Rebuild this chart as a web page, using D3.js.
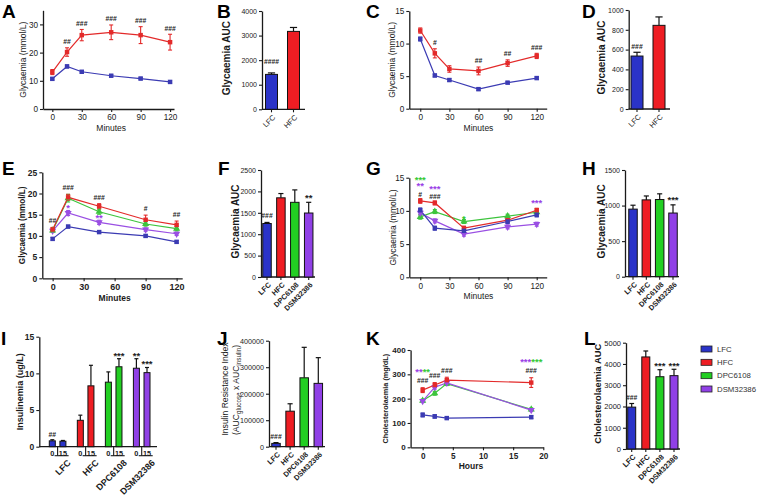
<!DOCTYPE html>
<html><head><meta charset="utf-8">
<script src="https://cdn.jsdelivr.net/npm/d3@7"></script>
<style>body{margin:0;background:#fff}svg{display:block}</style>
</head><body><svg id="c" width="758" height="496"></svg>
<script>
// ---------------- DATA ----------------
const groups = ["LFC","HFC","DPC6108","DSM32386"];
const groups2 = ["LFC","HFC"];
const keys = ["LFC","HFC","DPC","DSM"];

const minutesA = [0,15,30,60,90,120];
const glyA_LFC = [10.7,15.1,13.2,11.8,10.8,9.6];
const glyA_LFC_err = [0.4,0.5,0.4,0.3,0.4,0.4];
const glyA_HFC = [13.1,20.2,26.2,27.2,26.2,23.7];
const glyA_HFC_err = [0.9,1.5,2.0,2.6,3.0,2.8];
const sigA = ["","##","###","###","###","###"];

const aucB = [1420,3170];
const aucB_err = [60,160];
const sigB = ["####",""];

const minutesC = [0,15,30,60,90,120];
const glyC_LFC = [10.7,5.1,4.4,3.0,4.0,4.7];
const glyC_LFC_err = [0.3,0.2,0.2,0.2,0.15,0.2];
const glyC_HFC = [12.0,8.5,6.1,5.8,7.0,8.1];
const glyC_HFC_err = [0.4,0.7,0.5,0.6,0.5,0.4];
const sigC = ["","#","","##","##","###"];

const aucD = [535,845];
const aucD_err = [38,85];
const sigD = ["###",""];

const minutesE = [0,15,45,90,120];
const glyE_LFC = [9.3,12.2,10.9,10.0,8.6];
const glyE_LFC_err = [0.3,0.3,0.3,0.3,0.3];
const glyE_HFC = [11.5,19.1,17.0,13.8,12.6];
const glyE_HFC_err = [0.5,0.7,0.6,1.1,0.9];
const glyE_DPC = [11.3,18.9,15.7,12.8,11.7];
const glyE_DPC_err = [0.4,0.9,0.6,0.5,0.5];
const glyE_DSM = [11.2,15.4,13.2,11.5,10.5];
const glyE_DSM_err = [0.4,0.6,0.5,0.4,0.4];
const sigE = ["##","###","###","#","##"];
const starE_DSM = ["","*","**","",""];

const aucF = [1250,1850,1745,1495];
const aucF_err = [25,100,290,250];
const sigF = ["###","","","**"];

const minutesG = [0,15,45,90,120];
const glyG_LFC = [10.1,7.4,7.0,8.4,9.4];
const glyG_HFC = [11.5,11.2,7.4,8.6,10.1];
const glyG_DPC = [9.1,9.9,8.4,9.2,9.8];
const glyG_DSM = [9.7,8.5,6.5,7.6,8.0];
const glyG_err = [0.35,0.3,0.3,0.3,0.3];
const sigG = ["#","###","","",""];
const starG_DSM = ["**","***","","","***"];
const starG_DPC = ["***","","*","",""];

const aucH = [950,1080,1085,895];
const aucH_err = [55,55,80,115];
const sigH = ["","","","***"];

const insulinTimes = ["0","15"];
const insulin0 = [0.8,3.6,8.8,10.7];
const insulin0_err = [0.15,0.7,1.4,1.3];
const insulin15 = [0.75,8.3,10.9,10.1];
const insulin15_err = [0.1,2.8,1.1,0.7];
const sigI0 = ["##","","","**"];
const sigI15 = ["","","***","***"];

const irJ = [12500,134000,260000,239000];
const irJ_err = [3000,28000,115000,97000];
const sigJ = ["###","","",""];

const hoursK = [0,2,4,18];
const cholK_LFC = [133,127,120,124];
const cholK_LFC_err = [8,7,5,6];
const cholK_HFC = [235,256,276,266];
const cholK_HFC_err = [10,10,12,20];
const cholK_DPC = [192,222,262,156];
const cholK_DSM = [190,247,265,153];
const cholK_err = [6,8,8,6];
const sigK = ["###","###","###","###"];
const starK_DSM = ["**","","","***"];
const starK_DPC = ["**","","","***"];

const aucL = [1970,4330,3400,3450];
const aucL_err = [170,280,330,300];
const sigL = ["###","","***","***"];

// ---------------- STYLE ----------------
const FONT = "'Liberation Sans', Arial, Helvetica, sans-serif";
const BAR = {LFC:"#2a33c8", HFC:"#ee1d23", DPC:"#22cf22", DSM:"#9040e6"};
const LINE = {LFC:"#3b3bb3", HFC:"#e32a2a", DPC:"#3dc43d", DSM:"#9a4fe3"};
const STAR = {DPC:"#35c935", DSM:"#9a3fe6", K:"#222"};
const AX = "#1a1a1a";

const svg = d3.select("#c").attr("font-family", FONT);

function letter(t, x, y){
  svg.append("text").attr("x",x).attr("y",y).attr("font-size",19).attr("font-weight","bold").attr("fill","#000").text(t);
}
function yAxis(g, y, x0, ticks, fs, bold, fmt){
  const a = d3.axisLeft(y).tickValues(ticks).tickSizeOuter(0).tickSizeInner(3).tickPadding(2)
    .tickFormat(fmt || d3.format("d"));
  const s = g.append("g").attr("transform",`translate(${x0},0)`).call(a)
    .attr("font-family",FONT).attr("font-size",fs).attr("font-weight",bold?"bold":"normal");
  s.select(".domain").attr("stroke",AX).attr("stroke-width",1.3);
  s.selectAll(".tick line").attr("stroke",AX).attr("stroke-width",1.1);
  s.selectAll(".tick text").attr("fill","#222");
}
function yLabel(g, lines, x, yc, fs, bold){
  const t = g.append("text").attr("transform",`translate(${x},${yc}) rotate(-90)`)
    .attr("text-anchor","middle").attr("dominant-baseline","central")
    .attr("font-size",fs).attr("font-weight",bold?"bold":"normal").attr("fill","#1a1a1a");
  if (typeof lines === "string") t.text(lines); else lines(t);
}
// visual centre -> baseline for symbol glyphs
function symText(g, x, yc, txt, color, fs){
  const star = txt.indexOf("*")>=0;
  const base = yc + (star ? 0.56 : 0.36)*fs;
  return g.append("text").attr("x",x).attr("y",base).attr("text-anchor","middle")
    .attr("font-size",fs).attr("font-weight","bold").attr("fill",color).text(txt);
}
const HFS = 6.8, SFS = 9.5;

function lineChart(p){
  const g = svg.append("g");
  const x = d3.scaleLinear().domain(p.xd).range(p.xr);
  const y = d3.scaleLinear().domain(p.yd).range(p.yr);
  yAxis(g, y, p.xr[0], p.yTicks, p.tfs, p.tbold);
  const xa = d3.axisBottom(x).tickValues(p.xTicks).tickSizeOuter(0).tickSizeInner(3).tickPadding(2.5);
  const s = g.append("g").attr("transform",`translate(0,${y(0)})`).call(xa)
    .attr("font-family",FONT).attr("font-size",p.xfs).attr("font-weight",p.tbold?"bold":"normal");
  s.select(".domain").attr("stroke",AX).attr("stroke-width",1.3);
  s.selectAll(".tick line").attr("stroke",AX).attr("stroke-width",1.1);
  s.selectAll(".tick text").attr("fill","#222");
  g.append("text").attr("x",x(p.xs[0]/2+p.xs[p.xs.length-1]/2 + (p.xmidShift||0))).attr("y",p.xlabY)
    .attr("text-anchor","middle").attr("font-size",p.lfs).attr("font-weight",p.lbold?"bold":"normal")
    .attr("fill","#1a1a1a").text(p.xlab);
  yLabel(g, p.ylab, p.ylabX, (p.yr[0]+p.yr[1])/2, p.yfs, p.lbold);
  const ser = p.series;
  ser.forEach(sr=>{
    const col = LINE[sr.key];
    sr.v.forEach((v,i)=>{
      const e = sr.e[i], xx = x(p.xs[i]);
      g.append("line").attr("x1",xx).attr("x2",xx).attr("y1",y(v-e)).attr("y2",y(v+e)).attr("stroke",col).attr("stroke-width",1.1);
      [v-e,v+e].forEach(w=>g.append("line").attr("x1",xx-2).attr("x2",xx+2).attr("y1",y(w)).attr("y2",y(w)).attr("stroke",col).attr("stroke-width",1.1));
    });
    g.append("path").datum(sr.v).attr("fill","none").attr("stroke",col).attr("stroke-width",1.2)
      .attr("d", d3.line().x((d,i)=>x(p.xs[i])).y(d=>y(d)));
  });
  ser.forEach(sr=>{
    const col = LINE[sr.key];
    const sym = sr.key==="DPC"||sr.key==="DSM" ? d3.symbolTriangle : d3.symbolSquare;
    const rot = sr.key==="DSM" ? 180 : 0;
    sr.v.forEach((v,i)=>{
      g.append("path").attr("d", d3.symbol().type(sym).size(sym===d3.symbolSquare?20:22)())
        .attr("transform",`translate(${x(p.xs[i])},${y(v)}) rotate(${rot})`).attr("fill",col);
    });
  });
  // annotations
  const tops = p.xs.map((t,i)=>d3.min(ser, sr=>y(sr.v[i]+sr.e[i])));
  const joined = {};
  (p.layers||[]).forEach(L=>{
    L.texts.forEach((txt,i)=>{
      if(!txt) return;
      let ref;
      if (L.ref){ const sr = ser.find(s=>s.key===L.ref); ref = y(sr.v[i]+sr.e[i]); }
      else ref = tops[i];
      const yc = ref - (L.gap||6);
      const xx = x(p.xs[i]);
      if (L.pair){
        const fs = SFS;
        const t = g.append("text").attr("x",xx).attr("y",yc+0.56*fs).attr("text-anchor","middle")
          .attr("font-size",fs).attr("font-weight","bold");
        t.append("tspan").attr("fill",STAR.DSM).text(txt);
        t.append("tspan").attr("fill",STAR.DPC).text(L.pair[i]);
        tops[i] = yc - 4; return;
      }
      const isStar = txt.indexOf("*")>=0;
      const fs = isStar ? SFS : HFS;
      if (p.joinStack){
        // all marks stacked above one time point live in one text element
        if (!joined[i]) joined[i] = g.append("text").attr("text-anchor","middle").attr("font-weight","bold");
        joined[i].append("tspan").attr("x",xx).attr("y",yc+(isStar?0.56:0.36)*fs)
          .attr("font-size",fs).attr("fill",L.color).text(txt);
      } else {
        symText(g, xx, yc, txt, L.color, fs);
      }
      if (!L.ref) tops[i] = yc - 3;
    });
  });
  return {x,y,g};
}

function barChart(p){
  const g = svg.append("g");
  const y = d3.scaleLinear().domain(p.yd).range(p.yr);
  const x = d3.scalePoint().domain(p.cats).range(p.cr);
  yAxis(g, y, p.axX, p.yTicks, p.tfs, false, p.fmt);
  const y0 = y(0);
  g.append("line").attr("x1",p.axX).attr("x2",p.axEnd).attr("y1",y0).attr("y2",y0).attr("stroke",AX).attr("stroke-width",1.3);
  const keysOf = p.cats.map((c,i)=>keys[i]);
  p.cats.forEach((c,i)=>{
    const cx = x(c), v = p.v[i], e = p.e[i];
    g.append("line").attr("x1",cx).attr("x2",cx).attr("y1",y(v)).attr("y2",y(v+e)).attr("stroke","#111").attr("stroke-width",1.2);
    g.append("line").attr("x1",cx-p.w*0.3).attr("x2",cx+p.w*0.3).attr("y1",y(v+e)).attr("y2",y(v+e)).attr("stroke","#111").attr("stroke-width",1.2);
    g.append("rect").attr("x",cx-p.w/2).attr("y",y(v)).attr("width",p.w).attr("height",y0-y(v))
      .attr("fill",BAR[keysOf[i]]).attr("stroke","#111").attr("stroke-width",1);
    g.append("line").attr("x1",cx).attr("x2",cx).attr("y1",y0).attr("y2",y0+3).attr("stroke",AX).attr("stroke-width",1.1);
    g.append("text").attr("transform",`translate(${cx+1},${y0+4}) rotate(-45)`).attr("text-anchor","end")
      .attr("dx","-0.1em").attr("dy","0.75em").attr("font-size",p.cfs).attr("font-weight",p.cbold?"bold":"normal")
      .attr("fill","#1a1a1a").text(c);
    if (p.sig[i]){
      const t = p.sig[i];
      symText(g, cx, y(v+e) - (p.gap||6), t, "#222", t.indexOf("*")>=0?SFS:HFS);
    }
  });
  if (p.ylab) yLabel(g, p.ylab, p.ylabX, (p.yr[0]+p.yr[1])/2 - 2, p.yfs, true);
  return {x,y,g};
}

// ---------------- PANELS ----------------
letter("A",2,18); letter("B",217,18); letter("C",366,18); letter("D",582,18);
letter("E",2,175); letter("F",218,175); letter("G",366,175); letter("H",582,175);
letter("I",1,345); letter("J",217,345); letter("K",366,345); letter("L",584,345);

const ticksMin = [0,30,60,90,120];

// A
lineChart({xd:[-9.5,124], xr:[43,174], yd:[0,35], yr:[109,10.3], xs:minutesA,
  yTicks:[0,10,20,30], xTicks:ticksMin, tfs:8.2, xfs:8.2, tbold:false, lfs:8.5, lbold:false,
  xlab:"Minutes", xlabY:131, ylab:"Glycaemia (mmol/L)", ylabX:23, yfs:8.5,
  series:[{key:"LFC",v:glyA_LFC,e:glyA_LFC_err},{key:"HFC",v:glyA_HFC,e:glyA_HFC_err}],
  layers:[{texts:sigA,color:"#222"}]});

// B
barChart({cats:groups2, cr:[271.5,293.5], w:12, yd:[0,4000], yr:[109.3,11], axX:262, axEnd:305,
  yTicks:[0,1000,2000,3000,4000], tfs:7, v:aucB, e:aucB_err, sig:sigB, gap:11,
  cfs:7.5, cbold:false, ylab:"Glycaemia AUC", ylabX:226.5, yfs:10});

// C
lineChart({xd:[-11.3,130.3], xr:[409.3,546.7], yd:[0,15], yr:[108.7,11], xs:minutesC,
  yTicks:[0,5,10,15], xTicks:ticksMin, tfs:8.2, xfs:8.2, tbold:false, lfs:8.5, lbold:false,
  xlab:"Minutes", xlabY:131, ylab:"Glycaemia (mmol/L)", ylabX:391.5, yfs:8.5,
  series:[{key:"LFC",v:glyC_LFC,e:glyC_LFC_err},{key:"HFC",v:glyC_HFC,e:glyC_HFC_err}],
  layers:[{texts:sigC,color:"#222"}]});

// D
barChart({cats:groups2, cr:[637,659], w:12, yd:[0,1000], yr:[109,10], axX:628.7, axEnd:670,
  yTicks:[0,200,400,600,800,1000], tfs:7, v:aucD, e:aucD_err, sig:sigD, gap:6,
  cfs:7.5, cbold:false, ylab:"Glycaemia AUC", ylabX:601, yfs:10});

// E
lineChart({xd:[-10,125.4], xr:[42.3,182.2], yd:[0,25], yr:[278.3,172.3], xs:minutesE,
  yTicks:[0,5,10,15,20,25], xTicks:ticksMin, tfs:8.5, xfs:9, tbold:true, lfs:8.5, lbold:true,
  xlab:"Minutes", xlabY:301, ylab:"Glycaemia (mmol/L)", ylabX:22.7, yfs:8.2, xmidShift:0,
  series:[{key:"LFC",v:glyE_LFC,e:glyE_LFC_err},{key:"DSM",v:glyE_DSM,e:glyE_DSM_err},
          {key:"DPC",v:glyE_DPC,e:glyE_DPC_err},{key:"HFC",v:glyE_HFC,e:glyE_HFC_err}],
  layers:[{texts:sigE,color:"#222",gap:6.5},{texts:starE_DSM,color:STAR.DSM,ref:"DSM",gap:4.5}]});

// F
barChart({cats:groups, cr:[267,308.7], w:8.5, yd:[0,2500], yr:[277,170], axX:261, axEnd:315,
  yTicks:[0,500,1000,1500,2000,2500], tfs:7, v:aucF, e:aucF_err, sig:sigF, gap:6.5,
  cfs:7.3, cbold:true, ylab:"Glycaemia AUC", ylabX:235, yfs:10});

// G
lineChart({xd:[-11.3,130.3], xr:[409.3,546.7], yd:[0,15], yr:[277.3,177.7], xs:minutesG,
  yTicks:[0,5,10,15], xTicks:ticksMin, tfs:8.2, xfs:8.2, tbold:false, lfs:8.5, lbold:false,
  xlab:"Minutes", xlabY:298.5, ylab:"Glycaemia (mmol/L)", ylabX:393, yfs:8.5, joinStack:true,
  series:[{key:"DPC",v:glyG_DPC,e:glyG_err},{key:"DSM",v:glyG_DSM,e:glyG_err},
          {key:"HFC",v:glyG_HFC,e:glyG_err},{key:"LFC",v:glyG_LFC,e:glyG_err}],
  layers:[{texts:sigG,color:"#222",gap:4},{texts:starG_DSM,color:STAR.DSM,gap:7.5},{texts:starG_DPC,color:STAR.DPC,gap:3}]});

// H
barChart({cats:groups, cr:[633,673], w:8.5, yd:[0,1500], yr:[276.7,170], axX:625, axEnd:679,
  yTicks:[0,500,1000,1500], tfs:7, v:aucH, e:aucH_err, sig:sigH, gap:7,
  cfs:7.3, cbold:true, ylab:"Glycaemia AUC", ylabX:601, yfs:10});

// I (grouped bars)
(function(){
  const g = svg.append("g");
  const y = d3.scaleLinear().domain([0,15]).range([446.7,336.7]);
  const x = d3.scalePoint().domain(groups).range([57.6,141.7]);
  const sub = d3.scalePoint().domain(insulinTimes).range([-5.3,5.3]);
  yAxis(g, y, 39.3, [0,5,10,15], 8.5, true);
  const y0 = y(0);
  g.append("line").attr("x1",39.3).attr("x2",157).attr("y1",y0).attr("y2",y0).attr("stroke",AX).attr("stroke-width",1.3);
  const sets = [[insulin0,insulin0_err,sigI0],[insulin15,insulin15_err,sigI15]];
  groups.forEach((c,i)=>{
    const gc = x(c);
    insulinTimes.forEach((tm,j)=>{
      const [vals,errs,sig] = sets[j];
      const cx = gc + sub(tm), v = vals[i], e = errs[i], w = 6;
      g.append("line").attr("x1",cx).attr("x2",cx).attr("y1",y(v)).attr("y2",y(v+e)).attr("stroke","#111").attr("stroke-width",1.2);
      g.append("line").attr("x1",cx-2).attr("x2",cx+2).attr("y1",y(v+e)).attr("y2",y(v+e)).attr("stroke","#111").attr("stroke-width",1.2);
      g.append("rect").attr("x",cx-w/2).attr("y",y(v)).attr("width",w).attr("height",y0-y(v))
        .attr("fill",BAR[keys[i]]).attr("stroke","#111").attr("stroke-width",1);
      g.append("text").attr("x",cx).attr("y",455.5).attr("text-anchor","middle").attr("font-size",7.3)
        .attr("font-weight","bold").attr("fill","#1a1a1a").text(tm);
      if (sig[i]) symText(g, cx, y(v+e)-5.5, sig[i], "#222", sig[i].indexOf("*")>=0?SFS:HFS);
    });
    g.append("line").attr("x1",gc).attr("x2",gc).attr("y1",y0).attr("y2",y0+9).attr("stroke",AX).attr("stroke-width",1.1);
    g.append("line").attr("x1",gc-3).attr("x2",gc+11).attr("y1",y0+9).attr("y2",y0+9).attr("stroke",AX).attr("stroke-width",1.1);
    g.append("text").attr("transform",`translate(${gc+9},${y0+12}) rotate(-45)`).attr("text-anchor","end")
      .attr("dy","0.75em").attr("font-size",9).attr("font-weight","bold").attr("fill","#1a1a1a").text(c);
  });
  yLabel(g, "Insulinemia (ug/L)", 20, 391.7, 9, true);
})();

// J
barChart({cats:groups, cr:[276,318.3], w:8.5, yd:[0,400000], yr:[446.7,340.7], axX:269, axEnd:325,
  yTicks:[0,100000,200000,300000,400000], tfs:7.2, fmt:d3.format("d"), v:irJ, e:irJ_err, sig:sigJ, gap:6,
  cfs:7.3, cbold:true, ylab:null});
yLabel(svg, "Insulin Resistance Index", 224.5, 389, 8.6, false);
yLabel(svg, t=>{
  t.append("tspan").text("(AUC");
  t.append("tspan").attr("font-size",6.3).attr("dy",2).text("glucose");
  t.append("tspan").attr("dy",-2).text(" x AUC");
  t.append("tspan").attr("font-size",6.3).attr("dy",2).text("insulin");
  t.append("tspan").attr("dy",-2).text(")");
}, 235.5, 390, 8.6, false);

// K
lineChart({xd:[-2,20], xr:[410.6,543.3], yd:[0,400], yr:[447.3,350], xs:hoursK,
  yTicks:[0,100,200,300,400], xTicks:[0,5,10,15,20], tfs:8, xfs:8.2, tbold:true, lfs:8.5, lbold:true,
  xlab:"Hours", xlabY:469, ylab:"Cholesterolaemia (mg/dL)", ylabX:385.7, yfs:7.3, xmidShift:-1,
  series:[{key:"LFC",v:cholK_LFC,e:cholK_LFC_err},{key:"DPC",v:cholK_DPC,e:cholK_err},
          {key:"DSM",v:cholK_DSM,e:cholK_err},{key:"HFC",v:cholK_HFC,e:cholK_HFC_err}],
  layers:[{texts:sigK,color:"#222",gap:7},{texts:starK_DSM,pair:starK_DPC,gap:8}]});

// L
barChart({cats:groups, cr:[631.7,674], w:8, yd:[0,5000], yr:[449,342.7], axX:626, axEnd:680,
  yTicks:[0,1000,2000,3000,4000,5000], tfs:7.5, v:aucL, e:aucL_err, sig:sigL, gap:6,
  cfs:7.5, cbold:true, ylab:"Cholesterolaemia AUC", ylabX:598.3, yfs:9.3});

// Legend
const legRows = d3.scalePoint().domain(groups).range([349,389]);
groups.forEach((c,i)=>{
  const yy = legRows(c);
  svg.append("rect").attr("x",701).attr("y",yy-3).attr("width",11).attr("height",6)
    .attr("fill",BAR[keys[i]]).attr("stroke","#222").attr("stroke-width",0.8);
  svg.append("text").attr("x",717).attr("y",yy).attr("dominant-baseline","central")
    .attr("font-size",7.8).attr("fill","#333").text(c);
});
</script></body></html>
